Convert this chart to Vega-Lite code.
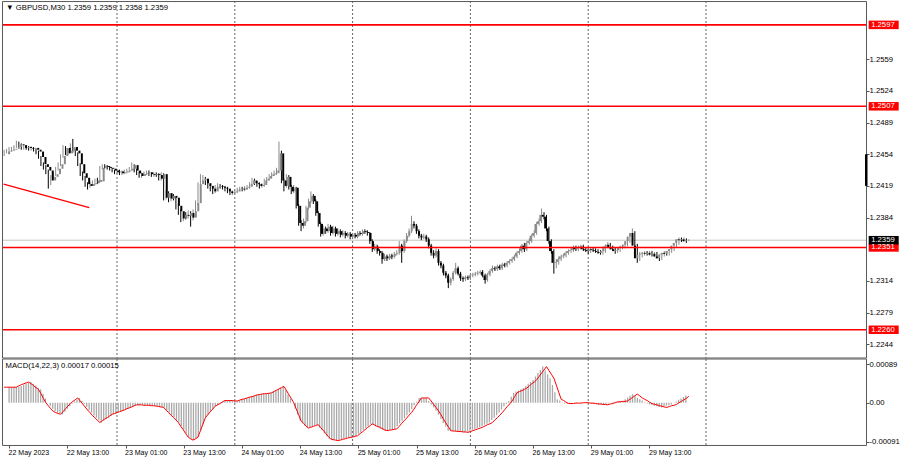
{
"$schema":"https://vega.github.io/schema/vega-lite/v6.json",
"background":"white",
"width":900,
"height":460,
"autosize":{"type":"fit","contains":"padding"},
"padding":{"left":0,"top":0,"right":0,"bottom":5},
"config":{"view":{"stroke":null},"font":"Liberation Sans","axis":{"labelFont":"Liberation Sans","labelColor":"#000000","tickColor":"#555555","domain":false,"grid":false}},
"resolve":{"scale":{"x":"independent","y":"independent"},"axis":{"x":"independent","y":"independent"}},
"datasets":{
"seps":[{"d":48},{"d":96},{"d":144},{"d":192},{"d":240},{"d":288}],
"trend":[{"i":1.8,"p":1.2421},{"i":36.7,"p":1.2395}],
"tags":[{"p":1.2597,"t":"1.2597","k":"level"},{"p":1.2507,"t":"1.2507","k":"level"},{"p":1.2351,"t":"1.2351","k":"level"},{"p":1.226,"t":"1.2260","k":"level"},{"p":1.2359,"t":"1.2359","k":"bid"}],
"head":[{"t":"▼ GBPUSD,M30  1.2359 1.2359 1.2358 1.2359"}],
"macdlab":[{"t":"MACD(14,22,3) 0.00017 0.00015"}],
"edge":[{"a":1.2454,"b":1.2419}],
"one":[{"n":1}],
"bars":[
{"i":2,"o":1.2454,"h":1.2459,"l":1.2452,"c":1.2457,"m":0.00036,"s":0.00036},
{"i":3,"o":1.2457,"h":1.2460,"l":1.2455,"c":1.2458,"m":0.00036,"s":0.00036},
{"i":4,"o":1.2458,"h":1.2462,"l":1.2456,"c":1.2459,"m":0.00036,"s":0.00036},
{"i":5,"o":1.2459,"h":1.2462,"l":1.2457,"c":1.2460,"m":0.00036,"s":0.00036},
{"i":6,"o":1.2460,"h":1.2464,"l":1.2458,"c":1.2462,"m":0.00036,"s":0.00036},
{"i":7,"o":1.2462,"h":1.2469,"l":1.2461,"c":1.2465,"m":0.00039,"s":0.00036},
{"i":8,"o":1.2465,"h":1.2468,"l":1.2462,"c":1.2464,"m":0.00042,"s":0.00039},
{"i":9,"o":1.2464,"h":1.2466,"l":1.2459,"c":1.2461,"m":0.00044,"s":0.00042},
{"i":10,"o":1.2461,"h":1.2464,"l":1.2459,"c":1.2462,"m":0.00046,"s":0.00044},
{"i":11,"o":1.2462,"h":1.2464,"l":1.2459,"c":1.2461,"m":0.00048,"s":0.00046},
{"i":12,"o":1.2461,"h":1.2463,"l":1.2458,"c":1.2460,"m":0.00044,"s":0.00048},
{"i":13,"o":1.2460,"h":1.2463,"l":1.2458,"c":1.2461,"m":0.00040,"s":0.00044},
{"i":14,"o":1.2461,"h":1.2462,"l":1.2457,"c":1.2459,"m":0.00035,"s":0.00040},
{"i":15,"o":1.2459,"h":1.2460,"l":1.2454,"c":1.2457,"m":0.00031,"s":0.00035},
{"i":16,"o":1.2457,"h":1.2458,"l":1.2449,"c":1.2451,"m":0.00021,"s":0.00031},
{"i":17,"o":1.2451,"h":1.2452,"l":1.2441,"c":1.2443,"m":0.00010,"s":0.00021},
{"i":18,"o":1.2443,"h":1.2445,"l":1.2437,"c":1.2440,"m":0,"s":0.00010},
{"i":19,"o":1.2440,"h":1.2442,"l":1.2432,"c":1.2436,"m":-0.00007,"s":0},
{"i":20,"o":1.2436,"h":1.2437,"l":1.2416,"c":1.2425,"m":-0.00014,"s":-0.00007},
{"i":21,"o":1.2425,"h":1.2431,"l":1.2420,"c":1.2429,"m":-0.00020,"s":-0.00014},
{"i":22,"o":1.2429,"h":1.2434,"l":1.2426,"c":1.2432,"m":-0.00023,"s":-0.00020},
{"i":23,"o":1.2432,"h":1.2440,"l":1.2430,"c":1.2438,"m":-0.00025,"s":-0.00023},
{"i":24,"o":1.2438,"h":1.2445,"l":1.2436,"c":1.2443,"m":-0.00027,"s":-0.00025},
{"i":25,"o":1.2443,"h":1.2454,"l":1.2441,"c":1.2452,"m":-0.00021,"s":-0.00027},
{"i":26,"o":1.2452,"h":1.2464,"l":1.2450,"c":1.2461,"m":-0.00014,"s":-0.00021},
{"i":27,"o":1.2461,"h":1.2463,"l":1.2453,"c":1.2455,"m":-0.00008,"s":-0.00014},
{"i":28,"o":1.2455,"h":1.2460,"l":1.2453,"c":1.2458,"m":-0.00002,"s":-0.00008},
{"i":29,"o":1.2458,"h":1.2466,"l":1.2456,"c":1.2462,"m":0.00003,"s":-0.00002},
{"i":30,"o":1.2462,"h":1.2471,"l":1.2456,"c":1.2458,"m":0.00007,"s":0.00003},
{"i":31,"o":1.2458,"h":1.2460,"l":1.2452,"c":1.2455,"m":0.00011,"s":0.00007},
{"i":32,"o":1.2455,"h":1.2456,"l":1.2441,"c":1.2443,"m":0.00004,"s":0.00011},
{"i":33,"o":1.2443,"h":1.2444,"l":1.2430,"c":1.2433,"m":-0.00003,"s":0.00004},
{"i":34,"o":1.2433,"h":1.2435,"l":1.2425,"c":1.2428,"m":-0.00010,"s":-0.00003},
{"i":35,"o":1.2428,"h":1.2430,"l":1.2418,"c":1.2421,"m":-0.00017,"s":-0.00010},
{"i":36,"o":1.2421,"h":1.2423,"l":1.2415,"c":1.2419,"m":-0.00023,"s":-0.00017},
{"i":37,"o":1.2419,"h":1.2424,"l":1.2417,"c":1.2421,"m":-0.00030,"s":-0.00023},
{"i":38,"o":1.2421,"h":1.2425,"l":1.2419,"c":1.2422,"m":-0.00035,"s":-0.00030},
{"i":39,"o":1.2422,"h":1.2427,"l":1.2420,"c":1.2425,"m":-0.00041,"s":-0.00035},
{"i":40,"o":1.2425,"h":1.2428,"l":1.2421,"c":1.2424,"m":-0.00046,"s":-0.00041},
{"i":41,"o":1.2424,"h":1.2441,"l":1.2423,"c":1.2439,"m":-0.00042,"s":-0.00046},
{"i":42,"o":1.2439,"h":1.2443,"l":1.2437,"c":1.2441,"m":-0.00038,"s":-0.00042},
{"i":43,"o":1.2441,"h":1.2443,"l":1.2438,"c":1.2440,"m":-0.00035,"s":-0.00038},
{"i":44,"o":1.2440,"h":1.2442,"l":1.2437,"c":1.2439,"m":-0.00031,"s":-0.00035},
{"i":45,"o":1.2439,"h":1.2441,"l":1.2436,"c":1.2438,"m":-0.00027,"s":-0.00031},
{"i":46,"o":1.2438,"h":1.2439,"l":1.2434,"c":1.2436,"m":-0.00025,"s":-0.00027},
{"i":47,"o":1.2436,"h":1.2437,"l":1.2432,"c":1.2434,"m":-0.00023,"s":-0.00025},
{"i":48,"o":1.2434,"h":1.2437,"l":1.2432,"c":1.2435,"m":-0.00021,"s":-0.00023},
{"i":49,"o":1.2435,"h":1.2437,"l":1.2431,"c":1.2433,"m":-0.00019,"s":-0.00021},
{"i":50,"o":1.2433,"h":1.2436,"l":1.2431,"c":1.2434,"m":-0.00017,"s":-0.00019},
{"i":51,"o":1.2434,"h":1.2437,"l":1.2432,"c":1.2435,"m":-0.00014,"s":-0.00017},
{"i":52,"o":1.2435,"h":1.2438,"l":1.2433,"c":1.2436,"m":-0.00012,"s":-0.00014},
{"i":53,"o":1.2436,"h":1.2440,"l":1.2434,"c":1.2438,"m":-0.00010,"s":-0.00012},
{"i":54,"o":1.2438,"h":1.2445,"l":1.2436,"c":1.2442,"m":-0.00007,"s":-0.00010},
{"i":55,"o":1.2442,"h":1.2443,"l":1.2434,"c":1.2436,"m":-0.00005,"s":-0.00007},
{"i":56,"o":1.2436,"h":1.2438,"l":1.2431,"c":1.2433,"m":-0.00005,"s":-0.00005},
{"i":57,"o":1.2433,"h":1.2435,"l":1.2428,"c":1.2430,"m":-0.00005,"s":-0.00005},
{"i":58,"o":1.2430,"h":1.2434,"l":1.2428,"c":1.2432,"m":-0.00006,"s":-0.00005},
{"i":59,"o":1.2432,"h":1.2435,"l":1.2430,"c":1.2433,"m":-0.00006,"s":-0.00006},
{"i":60,"o":1.2433,"h":1.2436,"l":1.2431,"c":1.2434,"m":-0.00006,"s":-0.00006},
{"i":61,"o":1.2434,"h":1.2436,"l":1.2430,"c":1.2432,"m":-0.00007,"s":-0.00006},
{"i":62,"o":1.2432,"h":1.2434,"l":1.2429,"c":1.2431,"m":-0.00007,"s":-0.00007},
{"i":63,"o":1.2431,"h":1.2434,"l":1.2429,"c":1.2432,"m":-0.00008,"s":-0.00007},
{"i":64,"o":1.2432,"h":1.2434,"l":1.2429,"c":1.2431,"m":-0.00009,"s":-0.00008},
{"i":65,"o":1.2431,"h":1.2433,"l":1.2425,"c":1.2427,"m":-0.00010,"s":-0.00009},
{"i":66,"o":1.2427,"h":1.2434,"l":1.2425,"c":1.2432,"m":-0.00011,"s":-0.00010},
{"i":67,"o":1.2432,"h":1.2433,"l":1.2403,"c":1.2406,"m":-0.00017,"s":-0.00011},
{"i":68,"o":1.2406,"h":1.2414,"l":1.2404,"c":1.2411,"m":-0.00023,"s":-0.00017},
{"i":69,"o":1.2411,"h":1.2413,"l":1.2401,"c":1.2405,"m":-0.00029,"s":-0.00023},
{"i":70,"o":1.2405,"h":1.2411,"l":1.2402,"c":1.2408,"m":-0.00034,"s":-0.00029},
{"i":71,"o":1.2408,"h":1.2410,"l":1.2403,"c":1.2406,"m":-0.00040,"s":-0.00034},
{"i":72,"o":1.2406,"h":1.2407,"l":1.2393,"c":1.2397,"m":-0.00046,"s":-0.00040},
{"i":73,"o":1.2397,"h":1.2399,"l":1.2387,"c":1.2391,"m":-0.00055,"s":-0.00046},
{"i":74,"o":1.2391,"h":1.2393,"l":1.2379,"c":1.2383,"m":-0.00063,"s":-0.00055},
{"i":75,"o":1.2383,"h":1.2390,"l":1.2380,"c":1.2387,"m":-0.00072,"s":-0.00063},
{"i":76,"o":1.2387,"h":1.2390,"l":1.2382,"c":1.2386,"m":-0.00080,"s":-0.00072},
{"i":77,"o":1.2386,"h":1.2392,"l":1.2383,"c":1.2389,"m":-0.00084,"s":-0.00080},
{"i":78,"o":1.2389,"h":1.2391,"l":1.2374,"c":1.2384,"m":-0.00087,"s":-0.00084},
{"i":79,"o":1.2384,"h":1.2393,"l":1.2381,"c":1.2391,"m":-0.00084,"s":-0.00087},
{"i":80,"o":1.2391,"h":1.2403,"l":1.2389,"c":1.2400,"m":-0.00080,"s":-0.00084},
{"i":81,"o":1.2400,"h":1.2423,"l":1.2398,"c":1.2421,"m":-0.00065,"s":-0.00080},
{"i":82,"o":1.2421,"h":1.2432,"l":1.2419,"c":1.2425,"m":-0.00050,"s":-0.00065},
{"i":83,"o":1.2425,"h":1.2431,"l":1.2423,"c":1.2427,"m":-0.00035,"s":-0.00050},
{"i":84,"o":1.2427,"h":1.2429,"l":1.2420,"c":1.2422,"m":-0.00028,"s":-0.00035},
{"i":85,"o":1.2422,"h":1.2424,"l":1.2416,"c":1.2419,"m":-0.00021,"s":-0.00028},
{"i":86,"o":1.2419,"h":1.2421,"l":1.2413,"c":1.2416,"m":-0.00015,"s":-0.00021},
{"i":87,"o":1.2416,"h":1.2418,"l":1.2410,"c":1.2413,"m":-0.00008,"s":-0.00015},
{"i":88,"o":1.2413,"h":1.2420,"l":1.2411,"c":1.2418,"m":-0.00005,"s":-0.00008},
{"i":89,"o":1.2418,"h":1.2422,"l":1.2416,"c":1.2419,"m":-0.00002,"s":-0.00005},
{"i":90,"o":1.2419,"h":1.2421,"l":1.2416,"c":1.2418,"m":0.00002,"s":-0.00002},
{"i":91,"o":1.2418,"h":1.2420,"l":1.2415,"c":1.2417,"m":0.00005,"s":0.00002},
{"i":92,"o":1.2417,"h":1.2419,"l":1.2413,"c":1.2416,"m":0.00005,"s":0.00005},
{"i":93,"o":1.2416,"h":1.2418,"l":1.2411,"c":1.2413,"m":0.00005,"s":0.00005},
{"i":94,"o":1.2413,"h":1.2415,"l":1.2409,"c":1.2411,"m":0.00005,"s":0.00005},
{"i":95,"o":1.2411,"h":1.2414,"l":1.2409,"c":1.2412,"m":0.00004,"s":0.00005},
{"i":96,"o":1.2412,"h":1.2415,"l":1.2410,"c":1.2413,"m":0.00004,"s":0.00004},
{"i":97,"o":1.2413,"h":1.2417,"l":1.2411,"c":1.2415,"m":0.00006,"s":0.00004},
{"i":98,"o":1.2415,"h":1.2418,"l":1.2413,"c":1.2416,"m":0.00008,"s":0.00006},
{"i":99,"o":1.2416,"h":1.2418,"l":1.2413,"c":1.2415,"m":0.00009,"s":0.00008},
{"i":100,"o":1.2415,"h":1.2419,"l":1.2413,"c":1.2417,"m":0.00011,"s":0.00009},
{"i":101,"o":1.2417,"h":1.2420,"l":1.2415,"c":1.2418,"m":0.00013,"s":0.00011},
{"i":102,"o":1.2418,"h":1.2423,"l":1.2416,"c":1.2421,"m":0.00014,"s":0.00013},
{"i":103,"o":1.2421,"h":1.2428,"l":1.2419,"c":1.2425,"m":0.00016,"s":0.00014},
{"i":104,"o":1.2425,"h":1.2427,"l":1.2420,"c":1.2422,"m":0.00018,"s":0.00016},
{"i":105,"o":1.2422,"h":1.2424,"l":1.2418,"c":1.2421,"m":0.00019,"s":0.00018},
{"i":106,"o":1.2421,"h":1.2423,"l":1.2416,"c":1.2419,"m":0.00020,"s":0.00019},
{"i":107,"o":1.2419,"h":1.2422,"l":1.2417,"c":1.2420,"m":0.00021,"s":0.00020},
{"i":108,"o":1.2420,"h":1.2427,"l":1.2418,"c":1.2425,"m":0.00021,"s":0.00021},
{"i":109,"o":1.2425,"h":1.2429,"l":1.2423,"c":1.2427,"m":0.00022,"s":0.00021},
{"i":110,"o":1.2427,"h":1.2432,"l":1.2425,"c":1.2430,"m":0.00023,"s":0.00022},
{"i":111,"o":1.2430,"h":1.2434,"l":1.2428,"c":1.2432,"m":0.00026,"s":0.00023},
{"i":112,"o":1.2432,"h":1.2436,"l":1.2430,"c":1.2433,"m":0.00029,"s":0.00026},
{"i":113,"o":1.2433,"h":1.2439,"l":1.2431,"c":1.2436,"m":0.00032,"s":0.00029},
{"i":114,"o":1.2436,"h":1.2468,"l":1.2434,"c":1.2455,"m":0.00035,"s":0.00032},
{"i":115,"o":1.2455,"h":1.2458,"l":1.2422,"c":1.2425,"m":0.00038,"s":0.00035},
{"i":116,"o":1.2425,"h":1.2427,"l":1.2413,"c":1.2419,"m":0.00029,"s":0.00038},
{"i":117,"o":1.2419,"h":1.2432,"l":1.2417,"c":1.2429,"m":0.00019,"s":0.00029},
{"i":118,"o":1.2429,"h":1.2431,"l":1.2415,"c":1.2418,"m":0.00010,"s":0.00019},
{"i":119,"o":1.2418,"h":1.2420,"l":1.2410,"c":1.2413,"m":0,"s":0.00010},
{"i":120,"o":1.2413,"h":1.2420,"l":1.2411,"c":1.2417,"m":-0.00014,"s":0},
{"i":121,"o":1.2417,"h":1.2418,"l":1.2394,"c":1.2397,"m":-0.00028,"s":-0.00014},
{"i":122,"o":1.2397,"h":1.2399,"l":1.2375,"c":1.2378,"m":-0.00042,"s":-0.00028},
{"i":123,"o":1.2378,"h":1.2381,"l":1.2369,"c":1.2375,"m":-0.00048,"s":-0.00042},
{"i":124,"o":1.2375,"h":1.2383,"l":1.2372,"c":1.2380,"m":-0.00054,"s":-0.00048},
{"i":125,"o":1.2380,"h":1.2397,"l":1.2378,"c":1.2395,"m":-0.00059,"s":-0.00054},
{"i":126,"o":1.2395,"h":1.2405,"l":1.2393,"c":1.2402,"m":-0.00057,"s":-0.00059},
{"i":127,"o":1.2402,"h":1.2413,"l":1.2400,"c":1.2408,"m":-0.00055,"s":-0.00057},
{"i":128,"o":1.2408,"h":1.2410,"l":1.2399,"c":1.2402,"m":-0.00053,"s":-0.00055},
{"i":129,"o":1.2402,"h":1.2404,"l":1.2386,"c":1.2389,"m":-0.00051,"s":-0.00053},
{"i":130,"o":1.2389,"h":1.2391,"l":1.2374,"c":1.2377,"m":-0.00058,"s":-0.00051},
{"i":131,"o":1.2377,"h":1.2379,"l":1.2363,"c":1.2366,"m":-0.00064,"s":-0.00058},
{"i":132,"o":1.2366,"h":1.2375,"l":1.2364,"c":1.2372,"m":-0.00071,"s":-0.00064},
{"i":133,"o":1.2372,"h":1.2374,"l":1.2366,"c":1.2369,"m":-0.00078,"s":-0.00071},
{"i":134,"o":1.2369,"h":1.2377,"l":1.2367,"c":1.2374,"m":-0.00084,"s":-0.00078},
{"i":135,"o":1.2374,"h":1.2376,"l":1.2364,"c":1.2367,"m":-0.00086,"s":-0.00084},
{"i":136,"o":1.2367,"h":1.2375,"l":1.2365,"c":1.2372,"m":-0.00087,"s":-0.00086},
{"i":137,"o":1.2372,"h":1.2374,"l":1.2363,"c":1.2366,"m":-0.00088,"s":-0.00087},
{"i":138,"o":1.2366,"h":1.2372,"l":1.2364,"c":1.2369,"m":-0.00087,"s":-0.00088},
{"i":139,"o":1.2369,"h":1.2371,"l":1.2362,"c":1.2365,"m":-0.00085,"s":-0.00087},
{"i":140,"o":1.2365,"h":1.2370,"l":1.2363,"c":1.2367,"m":-0.00084,"s":-0.00085},
{"i":141,"o":1.2367,"h":1.2369,"l":1.2361,"c":1.2364,"m":-0.00082,"s":-0.00084},
{"i":142,"o":1.2364,"h":1.2368,"l":1.2362,"c":1.2366,"m":-0.00081,"s":-0.00082},
{"i":143,"o":1.2366,"h":1.2368,"l":1.2360,"c":1.2363,"m":-0.00080,"s":-0.00081},
{"i":144,"o":1.2363,"h":1.2367,"l":1.2361,"c":1.2365,"m":-0.00078,"s":-0.00080},
{"i":145,"o":1.2365,"h":1.2367,"l":1.2361,"c":1.2363,"m":-0.00077,"s":-0.00078},
{"i":146,"o":1.2363,"h":1.2369,"l":1.2361,"c":1.2367,"m":-0.00072,"s":-0.00077},
{"i":147,"o":1.2367,"h":1.2369,"l":1.2364,"c":1.2366,"m":-0.00068,"s":-0.00072},
{"i":148,"o":1.2366,"h":1.2371,"l":1.2364,"c":1.2369,"m":-0.00063,"s":-0.00068},
{"i":149,"o":1.2369,"h":1.2371,"l":1.2366,"c":1.2368,"m":-0.00058,"s":-0.00063},
{"i":150,"o":1.2368,"h":1.2370,"l":1.2364,"c":1.2367,"m":-0.00054,"s":-0.00058},
{"i":151,"o":1.2367,"h":1.2368,"l":1.2355,"c":1.2358,"m":-0.00049,"s":-0.00054},
{"i":152,"o":1.2358,"h":1.2360,"l":1.2346,"c":1.2349,"m":-0.00052,"s":-0.00049},
{"i":153,"o":1.2349,"h":1.2355,"l":1.2347,"c":1.2352,"m":-0.00055,"s":-0.00052},
{"i":154,"o":1.2352,"h":1.2354,"l":1.2344,"c":1.2347,"m":-0.00057,"s":-0.00055},
{"i":155,"o":1.2347,"h":1.2349,"l":1.2342,"c":1.2345,"m":-0.00060,"s":-0.00057},
{"i":156,"o":1.2345,"h":1.2347,"l":1.2333,"c":1.2338,"m":-0.00063,"s":-0.00060},
{"i":157,"o":1.2338,"h":1.2344,"l":1.2336,"c":1.2341,"m":-0.00065,"s":-0.00063},
{"i":158,"o":1.2341,"h":1.2343,"l":1.2336,"c":1.2339,"m":-0.00064,"s":-0.00065},
{"i":159,"o":1.2339,"h":1.2344,"l":1.2337,"c":1.2342,"m":-0.00063,"s":-0.00064},
{"i":160,"o":1.2342,"h":1.2344,"l":1.2338,"c":1.2341,"m":-0.00062,"s":-0.00063},
{"i":161,"o":1.2341,"h":1.2346,"l":1.2339,"c":1.2344,"m":-0.00061,"s":-0.00062},
{"i":162,"o":1.2344,"h":1.2348,"l":1.2342,"c":1.2345,"m":-0.00055,"s":-0.00061},
{"i":163,"o":1.2345,"h":1.2358,"l":1.2343,"c":1.2353,"m":-0.00048,"s":-0.00055},
{"i":164,"o":1.2353,"h":1.2355,"l":1.2334,"c":1.2347,"m":-0.00042,"s":-0.00048},
{"i":165,"o":1.2347,"h":1.2360,"l":1.2345,"c":1.2358,"m":-0.00036,"s":-0.00042},
{"i":166,"o":1.2358,"h":1.2367,"l":1.2356,"c":1.2364,"m":-0.00029,"s":-0.00036},
{"i":167,"o":1.2364,"h":1.2372,"l":1.2362,"c":1.2369,"m":-0.00023,"s":-0.00029},
{"i":168,"o":1.2369,"h":1.2386,"l":1.2367,"c":1.2377,"m":-0.00015,"s":-0.00023},
{"i":169,"o":1.2377,"h":1.2380,"l":1.2372,"c":1.2375,"m":-0.00006,"s":-0.00015},
{"i":170,"o":1.2375,"h":1.2377,"l":1.2366,"c":1.2369,"m":0.00002,"s":-0.00006},
{"i":171,"o":1.2369,"h":1.2371,"l":1.2361,"c":1.2364,"m":0.00011,"s":0.00002},
{"i":172,"o":1.2364,"h":1.2366,"l":1.2359,"c":1.2362,"m":0.00011,"s":0.00011},
{"i":173,"o":1.2362,"h":1.2366,"l":1.2360,"c":1.2363,"m":0.00011,"s":0.00011},
{"i":174,"o":1.2363,"h":1.2365,"l":1.2357,"c":1.2360,"m":0.00011,"s":0.00011},
{"i":175,"o":1.2360,"h":1.2362,"l":1.2350,"c":1.2353,"m":0.00004,"s":0.00011},
{"i":176,"o":1.2353,"h":1.2355,"l":1.2342,"c":1.2345,"m":-0.00004,"s":0.00004},
{"i":177,"o":1.2345,"h":1.2348,"l":1.2339,"c":1.2342,"m":-0.00011,"s":-0.00004},
{"i":178,"o":1.2342,"h":1.2350,"l":1.2340,"c":1.2347,"m":-0.00019,"s":-0.00011},
{"i":179,"o":1.2347,"h":1.2349,"l":1.2331,"c":1.2334,"m":-0.00028,"s":-0.00019},
{"i":180,"o":1.2334,"h":1.2336,"l":1.2328,"c":1.2331,"m":-0.00038,"s":-0.00028},
{"i":181,"o":1.2331,"h":1.2333,"l":1.2320,"c":1.2323,"m":-0.00047,"s":-0.00038},
{"i":182,"o":1.2323,"h":1.2325,"l":1.2317,"c":1.2320,"m":-0.00056,"s":-0.00047},
{"i":183,"o":1.2320,"h":1.2322,"l":1.2306,"c":1.2312,"m":-0.00065,"s":-0.00056},
{"i":184,"o":1.2312,"h":1.2318,"l":1.2309,"c":1.2316,"m":-0.00066,"s":-0.00065},
{"i":185,"o":1.2316,"h":1.2325,"l":1.2314,"c":1.2323,"m":-0.00066,"s":-0.00066},
{"i":186,"o":1.2323,"h":1.2334,"l":1.2321,"c":1.2328,"m":-0.00067,"s":-0.00066},
{"i":187,"o":1.2328,"h":1.2330,"l":1.2320,"c":1.2322,"m":-0.00067,"s":-0.00067},
{"i":188,"o":1.2322,"h":1.2324,"l":1.2314,"c":1.2317,"m":-0.00068,"s":-0.00067},
{"i":189,"o":1.2317,"h":1.2319,"l":1.2313,"c":1.2316,"m":-0.00068,"s":-0.00068},
{"i":190,"o":1.2316,"h":1.2320,"l":1.2314,"c":1.2318,"m":-0.00069,"s":-0.00068},
{"i":191,"o":1.2318,"h":1.2320,"l":1.2315,"c":1.2317,"m":-0.00067,"s":-0.00069},
{"i":192,"o":1.2317,"h":1.2322,"l":1.2315,"c":1.2320,"m":-0.00065,"s":-0.00067},
{"i":193,"o":1.2320,"h":1.2323,"l":1.2318,"c":1.2321,"m":-0.00063,"s":-0.00065},
{"i":194,"o":1.2321,"h":1.2324,"l":1.2319,"c":1.2322,"m":-0.00061,"s":-0.00063},
{"i":195,"o":1.2322,"h":1.2325,"l":1.2320,"c":1.2323,"m":-0.00059,"s":-0.00061},
{"i":196,"o":1.2323,"h":1.2326,"l":1.2321,"c":1.2324,"m":-0.00057,"s":-0.00059},
{"i":197,"o":1.2324,"h":1.2326,"l":1.2318,"c":1.2320,"m":-0.00054,"s":-0.00057},
{"i":198,"o":1.2320,"h":1.2322,"l":1.2311,"c":1.2315,"m":-0.00051,"s":-0.00054},
{"i":199,"o":1.2315,"h":1.2323,"l":1.2313,"c":1.2321,"m":-0.00049,"s":-0.00051},
{"i":200,"o":1.2321,"h":1.2327,"l":1.2319,"c":1.2325,"m":-0.00046,"s":-0.00049},
{"i":201,"o":1.2325,"h":1.2331,"l":1.2323,"c":1.2328,"m":-0.00040,"s":-0.00046},
{"i":202,"o":1.2328,"h":1.2330,"l":1.2325,"c":1.2327,"m":-0.00035,"s":-0.00040},
{"i":203,"o":1.2327,"h":1.2332,"l":1.2325,"c":1.2330,"m":-0.00029,"s":-0.00035},
{"i":204,"o":1.2330,"h":1.2332,"l":1.2326,"c":1.2328,"m":-0.00023,"s":-0.00029},
{"i":205,"o":1.2328,"h":1.2334,"l":1.2326,"c":1.2332,"m":-0.00016,"s":-0.00023},
{"i":206,"o":1.2332,"h":1.2334,"l":1.2329,"c":1.2331,"m":-0.00009,"s":-0.00016},
{"i":207,"o":1.2331,"h":1.2336,"l":1.2329,"c":1.2334,"m":-0.00003,"s":-0.00009},
{"i":208,"o":1.2334,"h":1.2338,"l":1.2332,"c":1.2336,"m":0.00004,"s":-0.00003},
{"i":209,"o":1.2336,"h":1.2340,"l":1.2334,"c":1.2338,"m":0.00014,"s":0.00004},
{"i":210,"o":1.2338,"h":1.2343,"l":1.2336,"c":1.2341,"m":0.00023,"s":0.00014},
{"i":211,"o":1.2341,"h":1.2347,"l":1.2339,"c":1.2345,"m":0.00026,"s":0.00023},
{"i":212,"o":1.2345,"h":1.2350,"l":1.2343,"c":1.2347,"m":0.00028,"s":0.00026},
{"i":213,"o":1.2347,"h":1.2355,"l":1.2345,"c":1.2353,"m":0.00031,"s":0.00028},
{"i":214,"o":1.2353,"h":1.2356,"l":1.2346,"c":1.2349,"m":0.00034,"s":0.00031},
{"i":215,"o":1.2349,"h":1.2358,"l":1.2347,"c":1.2356,"m":0.00039,"s":0.00034},
{"i":216,"o":1.2356,"h":1.2361,"l":1.2354,"c":1.2358,"m":0.00044,"s":0.00039},
{"i":217,"o":1.2358,"h":1.2366,"l":1.2356,"c":1.2364,"m":0.00048,"s":0.00044},
{"i":218,"o":1.2364,"h":1.2370,"l":1.2362,"c":1.2367,"m":0.00053,"s":0.00048},
{"i":219,"o":1.2367,"h":1.2379,"l":1.2365,"c":1.2377,"m":0.00061,"s":0.00053},
{"i":220,"o":1.2377,"h":1.2383,"l":1.2375,"c":1.2380,"m":0.00069,"s":0.00061},
{"i":221,"o":1.2380,"h":1.2394,"l":1.2378,"c":1.2387,"m":0.00076,"s":0.00069},
{"i":222,"o":1.2387,"h":1.2390,"l":1.2382,"c":1.2385,"m":0.00084,"s":0.00076},
{"i":223,"o":1.2385,"h":1.2387,"l":1.2369,"c":1.2372,"m":0.00075,"s":0.00084},
{"i":224,"o":1.2372,"h":1.2374,"l":1.2355,"c":1.2358,"m":0.00066,"s":0.00075},
{"i":225,"o":1.2358,"h":1.2360,"l":1.2344,"c":1.2347,"m":0.00057,"s":0.00066},
{"i":226,"o":1.2347,"h":1.2349,"l":1.2322,"c":1.2334,"m":0.00041,"s":0.00057},
{"i":227,"o":1.2334,"h":1.2338,"l":1.2328,"c":1.2335,"m":0.00024,"s":0.00041},
{"i":228,"o":1.2335,"h":1.2341,"l":1.2332,"c":1.2338,"m":0.00008,"s":0.00024},
{"i":229,"o":1.2338,"h":1.2343,"l":1.2336,"c":1.2341,"m":0.00005,"s":0.00008},
{"i":230,"o":1.2341,"h":1.2344,"l":1.2339,"c":1.2342,"m":0.00001,"s":0.00005},
{"i":231,"o":1.2342,"h":1.2347,"l":1.2340,"c":1.2345,"m":-0.00002,"s":0.00001},
{"i":232,"o":1.2345,"h":1.2349,"l":1.2343,"c":1.2347,"m":-0.00002,"s":-0.00002},
{"i":233,"o":1.2347,"h":1.2350,"l":1.2345,"c":1.2348,"m":-0.00002,"s":-0.00002},
{"i":234,"o":1.2348,"h":1.2353,"l":1.2346,"c":1.2351,"m":-0.00001,"s":-0.00002},
{"i":235,"o":1.2351,"h":1.2353,"l":1.2347,"c":1.2349,"m":-0.00001,"s":-0.00001},
{"i":236,"o":1.2349,"h":1.2353,"l":1.2347,"c":1.2351,"m":-0.00001,"s":-0.00001},
{"i":237,"o":1.2351,"h":1.2354,"l":1.2349,"c":1.2352,"m":0,"s":-0.00001},
{"i":238,"o":1.2352,"h":1.2354,"l":1.2347,"c":1.2349,"m":0,"s":0},
{"i":239,"o":1.2349,"h":1.2351,"l":1.2346,"c":1.2348,"m":0,"s":0},
{"i":240,"o":1.2348,"h":1.2350,"l":1.2344,"c":1.2347,"m":-0.00001,"s":0},
{"i":241,"o":1.2347,"h":1.2351,"l":1.2345,"c":1.2349,"m":-0.00001,"s":-0.00001},
{"i":242,"o":1.2349,"h":1.2351,"l":1.2346,"c":1.2348,"m":-0.00002,"s":-0.00001},
{"i":243,"o":1.2348,"h":1.2350,"l":1.2345,"c":1.2347,"m":-0.00003,"s":-0.00002},
{"i":244,"o":1.2347,"h":1.2349,"l":1.2344,"c":1.2346,"m":-0.00003,"s":-0.00003},
{"i":245,"o":1.2346,"h":1.2348,"l":1.2343,"c":1.2345,"m":-0.00004,"s":-0.00003},
{"i":246,"o":1.2345,"h":1.2349,"l":1.2343,"c":1.2347,"m":-0.00004,"s":-0.00004},
{"i":247,"o":1.2347,"h":1.2354,"l":1.2345,"c":1.2352,"m":-0.00005,"s":-0.00004},
{"i":248,"o":1.2352,"h":1.2357,"l":1.2350,"c":1.2354,"m":-0.00003,"s":-0.00005},
{"i":249,"o":1.2354,"h":1.2356,"l":1.2349,"c":1.2351,"m":-0.00002,"s":-0.00003},
{"i":250,"o":1.2351,"h":1.2353,"l":1.2347,"c":1.2349,"m":0,"s":-0.00002},
{"i":251,"o":1.2349,"h":1.2351,"l":1.2344,"c":1.2347,"m":0.00002,"s":0},
{"i":252,"o":1.2347,"h":1.2350,"l":1.2345,"c":1.2348,"m":0.00002,"s":0.00002},
{"i":253,"o":1.2348,"h":1.2353,"l":1.2346,"c":1.2351,"m":0.00003,"s":0.00002},
{"i":254,"o":1.2351,"h":1.2354,"l":1.2349,"c":1.2352,"m":0.00003,"s":0.00003},
{"i":255,"o":1.2352,"h":1.2356,"l":1.2350,"c":1.2354,"m":0.00004,"s":0.00003},
{"i":256,"o":1.2354,"h":1.2360,"l":1.2352,"c":1.2358,"m":0.00008,"s":0.00004},
{"i":257,"o":1.2358,"h":1.2365,"l":1.2356,"c":1.2363,"m":0.00012,"s":0.00008},
{"i":258,"o":1.2363,"h":1.2372,"l":1.2361,"c":1.2367,"m":0.00016,"s":0.00012},
{"i":259,"o":1.2367,"h":1.2369,"l":1.2350,"c":1.2353,"m":0.00020,"s":0.00016},
{"i":260,"o":1.2353,"h":1.2355,"l":1.2334,"c":1.2339,"m":0.00016,"s":0.00020},
{"i":261,"o":1.2339,"h":1.2346,"l":1.2336,"c":1.2343,"m":0.00011,"s":0.00016},
{"i":262,"o":1.2343,"h":1.2346,"l":1.2340,"c":1.2344,"m":0.00008,"s":0.00011},
{"i":263,"o":1.2344,"h":1.2347,"l":1.2342,"c":1.2345,"m":0.00005,"s":0.00008},
{"i":264,"o":1.2345,"h":1.2347,"l":1.2342,"c":1.2344,"m":0.00001,"s":0.00005},
{"i":265,"o":1.2344,"h":1.2347,"l":1.2342,"c":1.2345,"m":-0.00002,"s":0.00001},
{"i":266,"o":1.2345,"h":1.2347,"l":1.2341,"c":1.2343,"m":-0.00004,"s":-0.00002},
{"i":267,"o":1.2343,"h":1.2346,"l":1.2341,"c":1.2344,"m":-0.00005,"s":-0.00004},
{"i":268,"o":1.2344,"h":1.2346,"l":1.2339,"c":1.2341,"m":-0.00007,"s":-0.00005},
{"i":269,"o":1.2341,"h":1.2343,"l":1.2336,"c":1.2339,"m":-0.00008,"s":-0.00007},
{"i":270,"o":1.2339,"h":1.2345,"l":1.2337,"c":1.2343,"m":-0.00010,"s":-0.00008},
{"i":271,"o":1.2343,"h":1.2347,"l":1.2341,"c":1.2345,"m":-0.00011,"s":-0.00010},
{"i":272,"o":1.2345,"h":1.2347,"l":1.2342,"c":1.2344,"m":-0.00009,"s":-0.00011},
{"i":273,"o":1.2344,"h":1.2349,"l":1.2342,"c":1.2347,"m":-0.00007,"s":-0.00009},
{"i":274,"o":1.2347,"h":1.2351,"l":1.2345,"c":1.2349,"m":-0.00006,"s":-0.00007},
{"i":275,"o":1.2349,"h":1.2355,"l":1.2347,"c":1.2353,"m":-0.00004,"s":-0.00006},
{"i":276,"o":1.2353,"h":1.2358,"l":1.2351,"c":1.2356,"m":0,"s":-0.00004},
{"i":277,"o":1.2356,"h":1.2362,"l":1.2354,"c":1.2360,"m":0.00003,"s":0},
{"i":278,"o":1.2360,"h":1.2362,"l":1.2357,"c":1.2359,"m":0.00007,"s":0.00003},
{"i":279,"o":1.2359,"h":1.2362,"l":1.2357,"c":1.2360,"m":0.00010,"s":0.00007},
{"i":280,"o":1.2360,"h":1.2361,"l":1.2356,"c":1.2358,"m":0.00013,"s":0.00010},
{"i":281,"o":1.2358,"h":1.2360,"l":1.2358,"c":1.2359,"m":0.00017,"s":0.00015}
]
},
"layer":[
{"data":{"name":"seps"},"mark":{"type":"rule","strokeDash":[2,2],"color":"#666666","strokeWidth":1},
 "encoding":{"x":{"field":"d","type":"quantitative","scale":{"domain":[1.14,353.6],"range":[0,865],"nice":false,"zero":false},"axis":null},
  "y":{"datum":1.26234,"type":"quantitative","scale":{"domain":[1.22288,1.26234],"range":[357,0],"nice":false,"zero":false},"axis":null},
  "y2":{"datum":1.22288}}},
{"data":{"name":"seps"},"mark":{"type":"rule","strokeDash":[2,2],"color":"#666666","strokeWidth":1},
 "encoding":{"x":{"field":"d","type":"quantitative","scale":{"domain":[1.14,353.6],"range":[0,865],"nice":false,"zero":false},"axis":null},
  "y":{"datum":0.001016,"type":"quantitative","scale":{"domain":[-0.001007,0.001016],"range":[445,358],"nice":false,"zero":false},"axis":null},
  "y2":{"datum":-0.001007}}},
{"data":{"name":"tags"},"transform":[{"filter":"datum.k=='bid'"}],"mark":{"type":"rule","color":"#c4c4c4","strokeWidth":1},
 "encoding":{"x":{"datum":1.5,"type":"quantitative","scale":{"domain":[1.14,353.6],"range":[0,865],"nice":false,"zero":false},"axis":null},
  "x2":{"datum":353.4},
  "y":{"field":"p","type":"quantitative","scale":{"domain":[1.22288,1.26234],"range":[357,0],"nice":false,"zero":false},
  "axis":{"orient":"right","title":null,"values":[1.2559,1.2524,1.2489,1.2454,1.2419,1.2384,1.2314,1.2279,1.2244],"format":".4f","labelFontSize":7.7,"tickSize":3,"labelPadding":0,"labelOverlap":false,"labelFlush":false}}}},
{"data":{"name":"bars"},"mark":{"type":"rule","strokeWidth":1,"clip":true},
 "encoding":{"x":{"field":"i","type":"quantitative","scale":{"domain":[1.14,353.6],"range":[0,865],"nice":false,"zero":false},"axis":null},
  "y":{"field":"l","type":"quantitative","scale":{"domain":[1.22288,1.26234],"range":[357,0],"nice":false,"zero":false},"axis":null},
  "y2":{"field":"h"},
  "color":{"condition":{"test":"datum.c>=datum.o","value":"#8a8a8a"},"value":"#000000"}}},
{"data":{"name":"bars"},"mark":{"type":"bar","size":2,"clip":true},
 "encoding":{"x":{"field":"i","type":"quantitative","scale":{"domain":[1.14,353.6],"range":[0,865],"nice":false,"zero":false},"axis":null},
  "y":{"field":"o","type":"quantitative","scale":{"domain":[1.22288,1.26234],"range":[357,0],"nice":false,"zero":false},"axis":null},
  "y2":{"field":"c"},
  "color":{"condition":{"test":"datum.c>=datum.o","value":"#8a8a8a"},"value":"#000000"}}},
{"data":{"name":"tags"},"transform":[{"filter":"datum.k=='level'"}],"mark":{"type":"rule","color":"#ff0000","strokeWidth":1.6},
 "encoding":{"x":{"datum":1.5,"type":"quantitative","scale":{"domain":[1.14,353.6],"range":[0,865],"nice":false,"zero":false},"axis":null},
  "x2":{"datum":353.6},
  "y":{"field":"p","type":"quantitative","scale":{"domain":[1.22288,1.26234],"range":[357,0],"nice":false,"zero":false},"axis":null}}},
{"data":{"name":"trend"},"mark":{"type":"line","color":"#ff0000","strokeWidth":1.5},
 "encoding":{"x":{"field":"i","type":"quantitative","scale":{"domain":[1.14,353.6],"range":[0,865],"nice":false,"zero":false},"axis":null},
  "y":{"field":"p","type":"quantitative","scale":{"domain":[1.22288,1.26234],"range":[357,0],"nice":false,"zero":false},"axis":null}}},
{"data":{"name":"bars"},"mark":{"type":"bar","size":1.3,"color":"#a9a9a9","clip":true},
 "encoding":{"x":{"field":"i","type":"quantitative","scale":{"domain":[1.14,353.6],"range":[0,865],"nice":false,"zero":false},
   "axis":{"title":null,"values":[2,26,50,74,98,122,146,170,194,218,242,266],"labelExpr":"datum.value==2?'22 May 2023':datum.value==26?'22 May 13:00':datum.value==50?'23 May 01:00':datum.value==74?'23 May 13:00':datum.value==98?'24 May 01:00':datum.value==122?'24 May 13:00':datum.value==146?'25 May 01:00':datum.value==170?'25 May 13:00':datum.value==194?'26 May 01:00':datum.value==218?'26 May 13:00':datum.value==242?'29 May 01:00':'29 May 13:00'","labelAlign":"left","labelBaseline":"top","labelFontSize":7,"tickSize":3,"labelPadding":0,"labelOffset":-1,"labelOverlap":false,"labelFlush":false}},
  "y":{"field":"m","type":"quantitative","scale":{"domain":[-0.001007,0.001016],"range":[445,358],"nice":false,"zero":false},
   "axis":{"orient":"right","title":null,"values":[0.00089,0,-0.00091],"labelExpr":"datum.value>0?'0.00089':datum.value<0?'-0.00091':'0.00'","labelFontSize":7.7,"tickSize":3,"labelPadding":0,"labelOverlap":false,"labelFlush":false}},
  "y2":{"datum":0}}},
{"data":{"name":"bars"},"mark":{"type":"line","color":"#ff0000","strokeWidth":1,"clip":true},
 "encoding":{"x":{"field":"i","type":"quantitative","scale":{"domain":[1.14,353.6],"range":[0,865],"nice":false,"zero":false},"axis":null},
  "y":{"field":"s","type":"quantitative","scale":{"domain":[-0.001007,0.001016],"range":[445,358],"nice":false,"zero":false},"axis":null}}},
{"data":{"name":"one"},"mark":{"type":"rect","filled":false,"color":"#5a5a5a","strokeWidth":1},
 "encoding":{"x":{"datum":1.344,"type":"quantitative","scale":{"domain":[1.14,353.6],"range":[0,865],"nice":false,"zero":false},"axis":null},
  "x2":{"datum":353.4},
  "y":{"datum":1.26228,"type":"quantitative","scale":{"domain":[1.22288,1.26234],"range":[357,0],"nice":false,"zero":false},"axis":null},
  "y2":{"datum":1.22288}}},
{"data":{"name":"one"},"mark":{"type":"rect","filled":false,"color":"#5a5a5a","strokeWidth":1},
 "encoding":{"x":{"datum":1.344,"type":"quantitative","scale":{"domain":[1.14,353.6],"range":[0,865],"nice":false,"zero":false},"axis":null},
  "x2":{"datum":353.4},
  "y":{"datum":0.001016,"type":"quantitative","scale":{"domain":[-0.001007,0.001016],"range":[445,358],"nice":false,"zero":false},"axis":null},
  "y2":{"datum":-0.000995}}},
{"data":{"name":"edge"},"mark":{"type":"rule","color":"#000000","strokeWidth":2.5},
 "encoding":{"x":{"datum":353.3,"type":"quantitative","scale":{"domain":[1.14,353.6],"range":[0,865],"nice":false,"zero":false},"axis":null},
  "y":{"field":"a","type":"quantitative","scale":{"domain":[1.22288,1.26234],"range":[357,0],"nice":false,"zero":false},"axis":null},
  "y2":{"field":"b"}}},
{"data":{"name":"tags"},"mark":{"type":"tick","orient":"horizontal","size":30,"thickness":8.5,"opacity":1},
 "encoding":{"x":{"datum":360.4,"type":"quantitative","scale":{"domain":[1.14,353.6],"range":[0,865],"nice":false,"zero":false},"axis":null},
  "y":{"field":"p","type":"quantitative","scale":{"domain":[1.22288,1.26234],"range":[357,0],"nice":false,"zero":false},"axis":null},
  "color":{"condition":{"test":"datum.k=='bid'","value":"#000000"},"value":"#ff0000"}}},
{"data":{"name":"tags"},"mark":{"type":"text","align":"left","baseline":"middle","color":"#ffffff","fontSize":7.7,"font":"Liberation Sans"},
 "encoding":{"x":{"datum":355.3,"type":"quantitative","scale":{"domain":[1.14,353.6],"range":[0,865],"nice":false,"zero":false},"axis":null},
  "y":{"field":"p","type":"quantitative","scale":{"domain":[1.22288,1.26234],"range":[357,0],"nice":false,"zero":false},"axis":null},
  "text":{"field":"t"}}},
{"data":{"name":"head"},"mark":{"type":"text","align":"left","baseline":"middle","color":"#000000","fontSize":7.7,"font":"Liberation Sans"},
 "encoding":{"x":{"datum":2.8,"type":"quantitative","scale":{"domain":[1.14,353.6],"range":[0,865],"nice":false,"zero":false},"axis":null},
  "y":{"datum":1.26153,"type":"quantitative","scale":{"domain":[1.22288,1.26234],"range":[357,0],"nice":false,"zero":false},"axis":null},
  "text":{"field":"t"}}},
{"data":{"name":"macdlab"},"mark":{"type":"text","align":"left","baseline":"middle","color":"#000000","fontSize":7.7,"font":"Liberation Sans"},
 "encoding":{"x":{"datum":2.6,"type":"quantitative","scale":{"domain":[1.14,353.6],"range":[0,865],"nice":false,"zero":false},"axis":null},
  "y":{"datum":0.000855,"type":"quantitative","scale":{"domain":[-0.001007,0.001016],"range":[445,358],"nice":false,"zero":false},"axis":null},
  "text":{"field":"t"}}}
]
}
